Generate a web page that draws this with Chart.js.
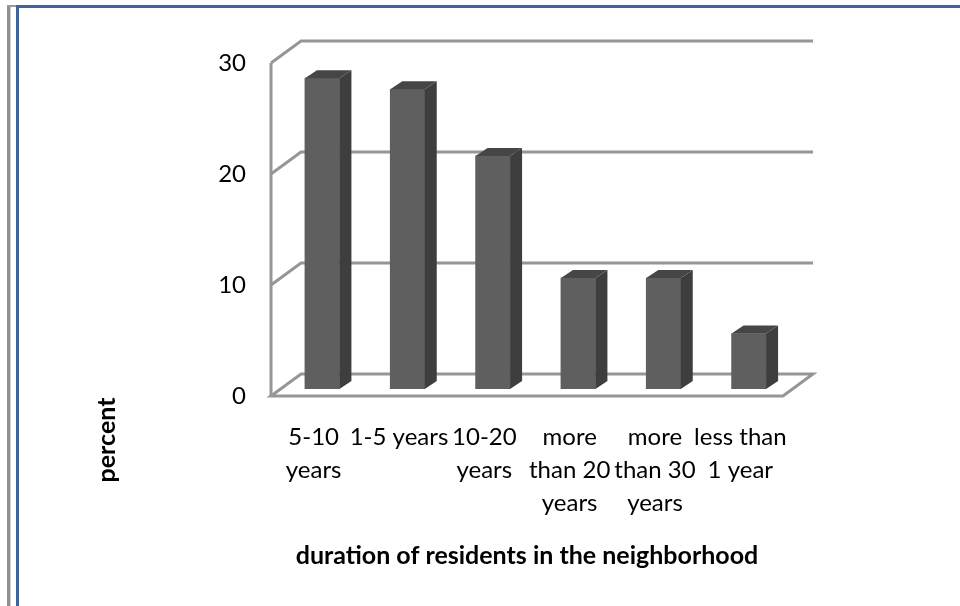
<!DOCTYPE html>
<html>
<head>
<meta charset="utf-8">
<style>
  html, body { margin: 0; padding: 0; background: #fff; }
  #wrap { position: relative; width: 960px; height: 606px; overflow: hidden; }
  canvas { position: absolute; left: 0; top: 0; }
  .rule { position: absolute; }
</style>
<script src="https://cdn.jsdelivr.net/npm/chart.js@4/dist/chart.umd.min.js"></script>
</head>
<body>
<div id="wrap">
  <canvas id="c" width="960" height="606"></canvas>
  <div class="rule" style="left:7px;top:5px;width:3px;height:601px;background:#8f8f8f"></div>
  <div class="rule" style="left:10px;top:5px;width:1px;height:601px;background:#d0d0d0"></div>
  <div class="rule" style="left:7px;top:5px;width:10px;height:2px;background:#9a9a9a"></div>
  <div class="rule" style="left:16px;top:5px;width:944px;height:2.5px;background:#3f6496"></div>
  <div class="rule" style="left:16px;top:5px;width:3px;height:601px;background:#3f6496"></div>
</div>
<script>
const categories = [
  ['5-10', 'years'],
  ['1-5 years'],
  ['10-20', 'years'],
  ['more', 'than 20', 'years'],
  ['more', 'than 30', 'years'],
  ['less than', '1 year']
];
const percentValues = [28, 27, 21, 10, 10, 5];
const yTicks = [0, 10, 20, 30];
const xTitle = 'duration of residents in the neighborhood';
const yTitle = 'percent';

const FONT = 'Lato, Carlito, sans-serif';

// Depth of the box behind the plot, and of each column
const WALL_DX = 30, WALL_DY = -22;
const BAR_SHIFT_X = 8.5, BAR_SHIFT_Y = -7;
const BAR_DX = 12, BAR_DY = -8;

const box3d = {
  id: 'box3d',
  beforeDatasetsDraw(chart) {
    const { ctx, chartArea: a, scales: { y } } = chart;
    ctx.save();
    ctx.strokeStyle = '#969696';
    ctx.lineWidth = 3;
    ctx.lineJoin = 'miter';

    // Left wall edge
    ctx.beginPath();
    ctx.moveTo(a.left, y.getPixelForValue(30));
    ctx.lineTo(a.left, y.getPixelForValue(0));
    ctx.stroke();

    // Gridlines running along the side wall and the back wall
    yTicks.forEach(v => {
      const py = y.getPixelForValue(v);
      ctx.beginPath();
      ctx.moveTo(a.left, py);
      ctx.lineTo(a.left + WALL_DX, py + WALL_DY);
      ctx.lineTo(a.right + WALL_DX, py + WALL_DY);
      if (v === 0) {
        ctx.lineTo(a.right, py);
        ctx.closePath();
      }
      ctx.stroke();
    });
    ctx.restore();

    // Columns stand in the middle of the floor
    ctx.save();
    ctx.translate(BAR_SHIFT_X, BAR_SHIFT_Y);
  },
  afterDatasetsDraw(chart) {
    const { ctx } = chart;
    chart.getDatasetMeta(0).data.forEach(bar => {
      const { x, y, base, width } = bar.getProps(['x', 'y', 'base', 'width'], true);
      const r = x + width / 2, l = x - width / 2;

      ctx.fillStyle = '#3e3e3e';
      ctx.beginPath();
      ctx.moveTo(r, y);
      ctx.lineTo(r + BAR_DX, y + BAR_DY);
      ctx.lineTo(r + BAR_DX, base + BAR_DY);
      ctx.lineTo(r, base);
      ctx.closePath();
      ctx.fill();

      ctx.fillStyle = '#464646';
      ctx.beginPath();
      ctx.moveTo(l, y);
      ctx.lineTo(l + BAR_DX, y + BAR_DY);
      ctx.lineTo(r + BAR_DX, y + BAR_DY);
      ctx.lineTo(r, y);
      ctx.closePath();
      ctx.fill();
    });
    ctx.restore();
  },
  afterDraw(chart) {
    // Vertical axis caption sits low, beside the category labels
    const { ctx } = chart;
    ctx.save();
    ctx.translate(107, 440);
    ctx.rotate(-Math.PI / 2);
    ctx.fillStyle = '#000';
    ctx.font = 'bold 25px ' + FONT;
    ctx.textAlign = 'center';
    ctx.textBaseline = 'middle';
    ctx.fillText(yTitle, 0, 0);
    ctx.restore();
  }
};

new Chart(document.getElementById('c'), {
  type: 'bar',
  data: {
    labels: categories,
    datasets: [{
      data: percentValues,
      backgroundColor: '#5f5f5f',
      barThickness: 34.5,
      borderWidth: 0
    }]
  },
  plugins: [box3d],
  options: {
    responsive: false,
    animation: false,
    events: [],
    layout: { padding: { left: 0, right: 177, top: 63, bottom: 35 } },
    plugins: { legend: { display: false }, tooltip: { enabled: false } },
    scales: {
      x: {
        grid: { display: false, drawTicks: false },
        border: { display: false },
        ticks: {
          color: '#000',
          padding: 25,
          maxRotation: 0,
          autoSkip: false,
          font: { family: FONT, size: 24, lineHeight: 1.375 }
        },
        title: {
          display: true,
          text: xTitle,
          color: '#000',
          font: { family: FONT, size: 25, weight: 'bold' },
          padding: { top: 0, bottom: 0 }
        },
        afterFit(scale) { scale.height = 175; }
      },
      y: {
        min: 0,
        max: 30,
        grid: { display: false, drawTicks: false },
        border: { display: false },
        afterBuildTicks(scale) { scale.ticks = yTicks.map(value => ({ value })); },
        ticks: {
          color: '#000',
          padding: 25,
          font: { family: FONT, size: 24 }
        },
        afterFit(scale) { scale.width = 271; }
      }
    }
  }
});
</script>
</body>
</html>
